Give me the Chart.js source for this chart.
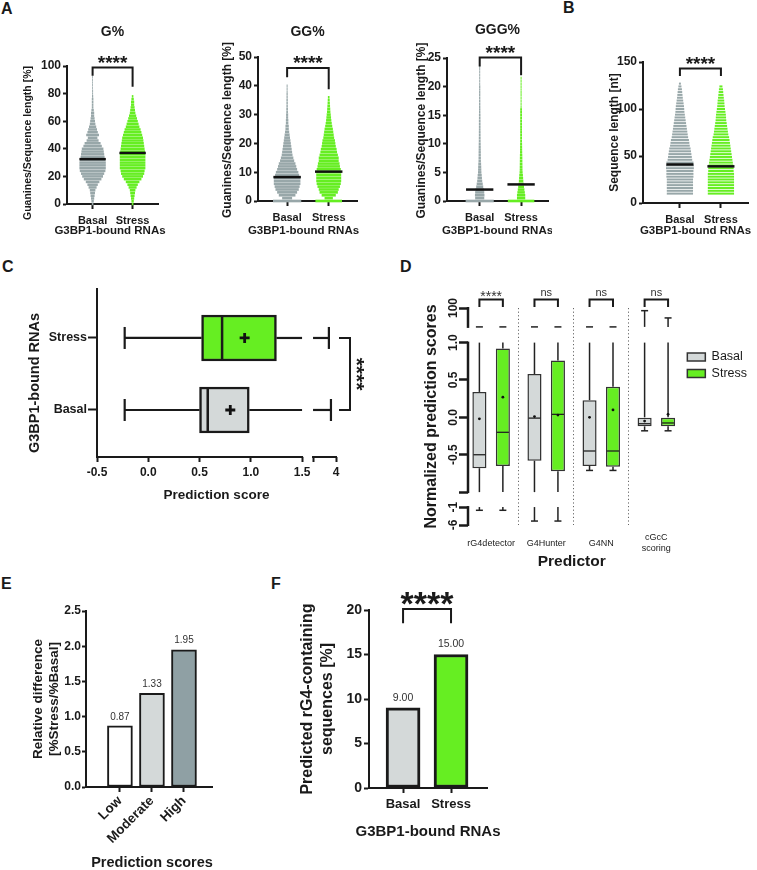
<!DOCTYPE html>
<html>
<head>
<meta charset="utf-8">
<title>G3BP1-bound RNAs – G content and rG4 prediction</title>
<script src="https://cdn.jsdelivr.net/npm/chart.js@4.4.1/dist/chart.umd.min.js"></script>
<style>
  html, body { margin: 0; padding: 0; background: #fff; }
  body { position: relative; width: 757px; height: 870px; overflow: hidden; font-family: 'Liberation Sans', Arial, sans-serif; }
  canvas { position: absolute; }
  .tag { position: absolute; font: bold 16px 'Liberation Sans', Arial, sans-serif; color: #1a1a1a; line-height: 1; }
</style>
</head>
<body>
<div class="tag" style="left:1px;top:1px">A</div>
<div class="tag" style="left:563px;top:0px">B</div>
<div class="tag" style="left:2px;top:259px">C</div>
<div class="tag" style="left:400px;top:259px">D</div>
<div class="tag" style="left:1px;top:576px">E</div>
<div class="tag" style="left:271px;top:576px">F</div>

<canvas id="cvG"></canvas>
<canvas id="cvGG"></canvas>
<canvas id="cvGGG"></canvas>
<canvas id="cvB"></canvas>
<canvas id="cvC"></canvas>
<canvas id="cvD"></canvas>
<canvas id="cvE"></canvas>
<canvas id="cvF"></canvas>

<script>
// ---------- data ----------
const groups = ['Basal', 'Stress'];

// A, G%: swarm half-spread per bin (in category widths)
const gBins = [0,2,4,6,8,10,12,14,16,18,20,22,24,26,28,30,32,34,36,38,40,42,44,46,48,50,52,54,56,58,60,62,64,66,68,70,72,74,76,78,80,82,84,86,88,90,92];
const gBasal = [.02,.03,.04,.05,.06,.07,.10,.13,.17,.22,.26,.29,.32,.33,.33,.33,.32,.30,.29,.28,.27,.23,.20,.15,.12,.16,.13,.11,.09,.07,.06,.05,.04,.04,.03,.02,.02,.02,.02,.015,.012,.012,.01,.01,.01,.01,.01];
const gStress = [.02,.03,.04,.05,.06,.07,.10,.13,.17,.22,.26,.29,.30,.32,.32,.32,.32,.32,.32,.31,.30,.29,.28,.27,.26,.24,.22,.20,.17,.15,.13,.11,.09,.07,.06,.05,.04,.04,.03,.02,0,0,0,0,0,0,0];
const gMedian = [32.5, 37];

// A, GG%
const ggBins = [0,1,2,3,4,5,6,7,8,9,10,11,12,13,14,15,16,17,18,19,20,21,22,23,24,25,26,27,28,29,30,31,32,33,34,35,36,37,38,39,40];
const ggBasal = [.34,.12,.20,.24,.28,.30,.32,.32,.32,.29,.27,.24,.22,.20,.17,.15,.13,.12,.11,.10,.09,.08,.07,.06,.05,.04,.04,.03,.03,.025,.025,.02,.02,.017,.017,.017,.015,.015,.012,.012,.012];
const ggStress = [.32,.10,.17,.22,.24,.27,.29,.30,.30,.30,.30,.29,.27,.26,.24,.24,.22,.20,.19,.17,.16,.15,.13,.12,.11,.10,.085,.073,.063,.056,.049,.041,.037,.032,.027,.024,.02,0,0,0,0];
const ggMedian = [8.3, 10.2];

// A, GGG%
const gggBins = [0,0.5,1,1.5,2,2.5,3,3.5,4,4.5,5,5.5,6,6.5,7,7.5,8,8.5,9,9.5,10,10.5,11,11.5,12,12.5,13,13.5,14,14.5,15,15.5,16,16.5,17,17.5,18,18.5,19,19.5,20,20.5,21,21.5,22,22.5,23,23.5,24];
const gggBasal = [.34,.11,.115,.11,.10,.085,.073,.061,.054,.049,.041,.039,.037,.034,.029,.028,.027,.027,.026,.025,.024,.022,.022,.021,.021,.02,.02,.02,.02,.019,.019,.017,.017,.016,.016,.016,.015,.015,.015,.015,.015,.012,.012,.012,.012,.012,.012,.012,0];
const gggStress = [.32,.10,.10,.09,.08,.07,.06,.054,.049,.044,.037,.034,.033,.032,.031,.03,.029,.027,.026,.025,.024,.022,.022,.022,.022,.022,.022,.022,.022,.022,.022,.022,.022,.012,.012,.012,.012,.012,.012,.012,.012,.012,.012,.012,0,0,0,0,0];
const gggMedian = [2.0, 2.9];

// B, sequence length
const lenBins = [10,13,16,19,22,25,28,31,34,37,40,43,46,49,52,55,58,61,64,67,70,73,76,79,82,85,88,91,94,97,100,103,106,109,112,115,118,121,124,127];
const lenBasal = [.32,.32,.32,.32,.32,.32,.33,.33,.33,.34,.34,.33,.30,.29,.28,.27,.26,.24,.23,.22,.20,.19,.18,.17,.16,.15,.14,.13,.12,.11,.105,.10,.09,.08,.07,.063,.056,.049,.037,.024];
const lenStress = [.32,.32,.32,.32,.32,.32,.32,.32,.31,.31,.30,.29,.28,.27,.26,.25,.24,.23,.22,.21,.20,.18,.17,.16,.15,.14,.13,.125,.12,.11,.10,.09,.085,.08,.07,.063,.056,.049,.037,0];
const lenMedian = [41, 39];

// C, prediction score box plot (Basal, Stress)
const cMin = [-0.23, -0.23];
const cQ1 = [0.50, 0.52];
const cMed = [0.58, 0.72];
const cQ3 = [0.985, 1.25];
const cMax = [3.78, 3.69];
const cMean = [0.80, 0.94];
const cTickVals = [-0.5, 0, 0.5, 1, 1.5, 3, 4];
const cTickText = ['-0.5', '0.0', '0.5', '1.0', '1.5', '', '4'];

// D, normalized prediction scores per predictor
const predictors = ['rG4detector', 'G4Hunter', 'G4NN', ['cGcC', 'scoring']];
const dSig = ['****', 'ns', 'ns', 'ns'];
const dBasalMin = [-1.9, -4.9, -0.71, -0.18];
const dBasalQ1 = [-0.68, -0.58, -0.65, -0.12];
const dBasalMed = [-0.50, -0.01, -0.45, -0.085];
const dBasalQ3 = [0.34, 0.58, 0.23, 0.0];
const dBasalMax = [1.02, 1.02, 1.02, 86];
const dBasalMean = [-0.02, 0.01, 0.0, -0.05];
const dStressMin = [-1.9, -4.9, -0.71, -0.18];
const dStressQ1 = [-0.65, -0.72, -0.66, -0.12];
const dStressMed = [-0.20, 0.04, -0.45, -0.075];
const dStressQ3 = [0.92, 0.76, 0.41, 0.0];
const dStressMax = [1.02, 1.02, 1.02, 48];
const dStressMean = [0.27, 0.03, 0.10, 0.04];
const dTickVals = [-6, -1, -1, -0.5, 0, 0.5, 1, 100];
const dTickSeg = [0, 0, 1, 1, 1, 1, 1, 2];
const dTickText = ['-6', '-1', '', '-0.5', '0.0', '0.5', '1.0', '100'];

// E, relative difference
const scoreLevels = ['Low', 'Moderate', 'High'];
const relDiff = [0.87, 1.33, 1.95];

// F, predicted rG4-containing sequences
const rg4Percent = [9.00, 15.00];

// ---------- look ----------
const FONT = "'Liberation Sans', Arial, sans-serif";
const INK = '#1a1a1a';
const GREY = '#98a7a9';
const GREEN = '#66ee22';
const LIGHT = '#d4d9d9';
const DARK = '#8fa0a4';
Chart.defaults.font.family = FONT;
Chart.defaults.color = INK;

const bold = size => ({ family: FONT, size, weight: 'bold' });

function place(id, box) {
  const c = document.getElementById(id);
  c.width = box[2]; c.height = box[3];
  Object.assign(c.style, { left: box[0] + 'px', top: box[1] + 'px', width: box[2] + 'px', height: box[3] + 'px' });
  return c;
}
// box = canvas [left, top, w, h]; area = wanted plot [left, top, right, bottom] in page px
function frame(box, area) {
  return { top: area[1] - box[1], right: box[0] + box[2] - area[2], yw: area[0] - box[0], xh: box[1] + box[3] - area[3] };
}

function drawMarks(ctx, text, cx, cy, size, weight) {
  ctx.font = `${weight || 'bold'} ${size}px ${FONT}`;
  ctx.textAlign = 'center';
  ctx.textBaseline = 'alphabetic';
  const lift = text.includes('*') ? 0.57 : 0.27;
  ctx.fillText(text, cx, cy + lift * size);
}

// axis titles (drawn without the scale's max-width squeeze); "at" is a page coordinate
const axisText = {
  id: 'axisText',
  afterDraw(chart, args, o) {
    const { ctx, chartArea: a, canvas } = chart;
    ctx.save();
    ctx.fillStyle = INK; ctx.textAlign = 'center'; ctx.textBaseline = 'middle';
    if (o.x) {
      ctx.font = `bold ${o.x.size}px ${FONT}`;
      ctx.fillText(o.x.text, (a.left + a.right) / 2 + (o.x.dx || 0), o.x.at - canvas.offsetTop);
    }
    if (o.y) {
      ctx.font = `bold ${o.y.size}px ${FONT}`;
      ctx.translate(o.y.at - canvas.offsetLeft, (a.top + a.bottom) / 2 + (o.y.dy || 0));
      ctx.rotate(-Math.PI / 2);
      [].concat(o.y.text).forEach((t, k) => ctx.fillText(t, 0, k * o.y.size * 1.2));
    }
    ctx.restore();
  }
};

// significance bracket, in data units
const sigPlugin = {
  id: 'sig',
  afterDraw(chart, args, o) {
    if (!o || !o.items) return;
    const { ctx, scales: { x, y } } = chart;
    ctx.save();
    ctx.strokeStyle = INK; ctx.fillStyle = INK; ctx.lineWidth = o.width || 2;
    o.items.forEach(it => {
      const x0 = x.getPixelForValue(it.from), x1 = x.getPixelForValue(it.to);
      const yt = y.getPixelForValue(it.top);
      ctx.beginPath();
      ctx.moveTo(x0, y.getPixelForValue(it.left));
      ctx.lineTo(x0, yt); ctx.lineTo(x1, yt);
      ctx.lineTo(x1, y.getPixelForValue(it.right));
      ctx.stroke();
      drawMarks(ctx, it.text, (x0 + x1) / 2, y.getPixelForValue(it.textAt), o.size, o.weight);
    });
    ctx.restore();
  }
};

// value labels on top of bars
const valuePlugin = {
  id: 'vals',
  afterDatasetsDraw(chart, args, o) {
    const { ctx } = chart;
    const meta = chart.getDatasetMeta(0);
    ctx.save();
    ctx.fillStyle = '#333';
    ctx.font = `${o.size}px ${FONT}`;
    ctx.textAlign = 'center'; ctx.textBaseline = 'middle';
    meta.data.forEach((bar, i) => {
      ctx.fillText(chart.data.datasets[0].data[i].y.toFixed(2), bar.x, bar.y - o.gap);
    });
    ctx.restore();
  }
};

// ---------- A / B: swarm panels ----------
function swarm(bins, spread, pos, color, bp) {
  return {
    type: 'bar',
    data: bins.map((b, i) => ({ y: b, x: [pos - spread[i], pos + spread[i]] })),
    backgroundColor: color, borderWidth: 0, grouped: false,
    barPercentage: bp, categoryPercentage: 1, clip: false, order: 2
  };
}
function medianLine(v, pos) {
  return {
    type: 'line', data: [{ x: pos - 0.33, y: v }, { x: pos + 0.33, y: v }],
    borderColor: '#111', borderWidth: 2.5, pointRadius: 0, order: 0, clip: false
  };
}

function swarmPanel(o) {
  const f = frame(o.box, o.area);
  const titleTop = o.titleY - o.box[1] - 8.4;
  return new Chart(place(o.id, o.box), {
    type: 'bar',
    data: {
      datasets: [
        medianLine(o.median[0], 0), medianLine(o.median[1], 1),
        swarm(o.bins, o.basal, 0, GREY, o.bp), swarm(o.bins, o.stress, 1, GREEN, o.bp)
      ]
    },
    plugins: [sigPlugin, axisText],
    options: {
      responsive: false, animation: false, indexAxis: 'y',
      layout: { padding: { left: 0, top: o.title ? 0 : f.top, right: f.right, bottom: 0 }, autoPadding: false },
      plugins: {
        legend: { display: false }, tooltip: { enabled: false },
        title: o.title ? {
          display: true, text: o.title, fullSize: false, font: bold(14), color: INK,
          padding: { top: titleTop, bottom: f.top - titleTop - 16.8 }
        } : { display: false },
        sig: { items: [Object.assign({ from: 0, to: 1, text: '****' }, o.sig)], size: 19, width: 2 },
        axisText: {
          x: { text: 'G3BP1-bound RNAs', size: 11.5, at: 231, dx: o.xTitleDx },
          y: { text: o.yTitle, size: o.yTitleSize, at: o.yTitleX, dy: o.yTitleDy }
        }
      },
      scales: {
        x: {
          type: 'linear', min: o.xRange[0], max: o.xRange[1], offset: false,
          afterBuildTicks: s => { s.ticks = [{ value: 0 }, { value: 1 }]; },
          afterFit: s => { s.height = f.xh; },
          ticks: { callback: v => groups[v], font: bold(11), color: INK, padding: 5, maxRotation: 0 },
          grid: { drawOnChartArea: false, offset: false, tickLength: 5, tickWidth: 2, tickColor: INK },
          border: { color: INK, width: 2 }
        },
        y: {
          type: 'linear', min: 0, max: o.yMax, offset: false,
          afterFit: s => { s.width = f.yw; },
          ticks: { stepSize: o.yStep, font: bold(12), color: INK, padding: 2 },
          grid: { drawOnChartArea: false, offset: false, tickLength: 4, tickWidth: 2, tickColor: INK },
          border: { color: INK, width: 2 }
        }
      }
    }
  });
}

swarmPanel({
  id: 'cvG', box: [0, 20, 170, 232], area: [67, 66, 158, 204], xRange: [-0.64, 1.635],
  bins: gBins, basal: gBasal, stress: gStress, median: gMedian, bp: 0.92,
  yMax: 100, yStep: 20, title: 'G%', titleY: 31.7, xTitleDx: -2.5,
  yTitle: 'Guanines/Sequence length [%]', yTitleSize: 10.5, yTitleX: 28, yTitleDy: 8,
  sig: { top: 99, left: 93, right: 85, textAt: 105.6 }
});
swarmPanel({
  id: 'cvGG', box: [170, 20, 190, 232], area: [258, 57, 357, 201], xRange: [-0.7, 1.68],
  bins: ggBins, basal: ggBasal, stress: ggStress, median: ggMedian, bp: 0.92,
  yMax: 50, yStep: 10, title: 'GG%', titleY: 31.7, xTitleDx: -4,
  yTitle: 'Guanines/Sequence length [%]', yTitleSize: 12, yTitleX: 228, yTitleDy: 1,
  sig: { top: 46.2, left: 43, right: 38.8, textAt: 49.5 }
});
swarmPanel({
  id: 'cvGGG', box: [360, 20, 192, 232], area: [447, 58, 548, 201], xRange: [-0.79, 1.65],
  bins: gggBins, basal: gggBasal, stress: gggStress, median: gggMedian, bp: 0.92,
  yMax: 25, yStep: 5, title: 'GGG%', titleY: 30, xTitleDx: 0,
  yTitle: 'Guanines/Sequence length [%]', yTitleSize: 12, yTitleX: 422, yTitleDy: 1,
  sig: { top: 25.1, left: 23.5, right: 22, textAt: 26.7 }
});
swarmPanel({
  id: 'cvB', box: [552, 20, 205, 232], area: [643, 62, 748, 203], xRange: [-0.9, 1.66],
  bins: lenBins, basal: lenBasal, stress: lenStress, median: lenMedian, bp: 0.72,
  yMax: 150, yStep: 50, title: null, titleY: 0, xTitleDx: 0,
  yTitle: 'Sequence length [nt]', yTitleSize: 12, yTitleX: 615, yTitleDy: 0,
  sig: { top: 143, left: 135, right: 135, textAt: 152.9 }
});

// ---------- C: horizontal box plot with broken x axis ----------
const cSegs = [{ lo: -0.5, hi: 1.5, dlo: -0.5, dhi: 1.5 }, { lo: 3, hi: 4, dlo: 1.607, dhi: 1.831 }];
function cPos(v) {
  const s = v > 1.5 ? cSegs[1] : cSegs[0];
  return s.dlo + (v - s.lo) / (s.hi - s.lo) * (s.dhi - s.dlo);
}
function segPieces(a, b, segs) {
  const out = [];
  segs.forEach((s, k) => {
    const lo = Math.max(Math.min(a, b), s.lo), hi = Math.min(Math.max(a, b), s.hi);
    if (lo < hi) out.push([lo, hi, k]);
  });
  return out;
}
function segMap(v, s) { return s.dlo + (v - s.lo) / (s.hi - s.lo) * (s.dhi - s.dlo); }

const cPlugin = {
  id: 'cbox',
  afterDatasetsDraw(chart) {
    const { ctx, scales: { x, y }, chartArea } = chart;
    const meta = chart.getDatasetMeta(0);
    ctx.save();
    ctx.strokeStyle = INK; ctx.fillStyle = INK; ctx.lineWidth = 2.2;
    const line = (x0, y0, x1, y1) => { ctx.beginPath(); ctx.moveTo(x0, y0); ctx.lineTo(x1, y1); ctx.stroke(); };
    groups.forEach((g, i) => {
      const yc = y.getPixelForValue(i);
      const half = meta.data[i].height / 2;
      [[cMin[i], cQ1[i]], [cQ3[i], cMax[i]]].forEach(([a, b]) => {
        segPieces(a, b, cSegs).forEach(([lo, hi, k]) =>
          line(x.getPixelForValue(segMap(lo, cSegs[k])), yc, x.getPixelForValue(segMap(hi, cSegs[k])), yc));
      });
      [cMin[i], cMax[i]].forEach(v => { const px = x.getPixelForValue(cPos(v)); line(px, yc - 11, px, yc + 11); });
      ctx.lineWidth = 2.5;
      const pm = x.getPixelForValue(cPos(cMed[i]));
      line(pm, yc - half + 1, pm, yc + half - 1);
      ctx.lineWidth = 2.2;
    });
    // broken x axis line
    ctx.lineWidth = 2;
    cSegs.forEach(s => line(x.getPixelForValue(s.dlo) - 1, chartArea.bottom, x.getPixelForValue(s.dhi) + 1, chartArea.bottom));
    // bracket and stars
    const yS = y.getPixelForValue(1), yB = y.getPixelForValue(0);
    const bx = chartArea.right + 14;
    ctx.beginPath();
    ctx.moveTo(bx - 11, yS); ctx.lineTo(bx, yS); ctx.lineTo(bx, yB); ctx.lineTo(bx - 11, yB);
    ctx.stroke();
    ctx.translate(bx + 12, (yS + yB) / 2);
    ctx.rotate(Math.PI / 2);
    drawMarks(ctx, '****', 0, 0, 21, 'bold');
    ctx.restore();
  }
};

(function () {
  const box = [0, 262, 392, 258], area = [97, 289, 336, 457];
  const f = frame(box, area);
  new Chart(place('cvC', box), {
    type: 'bar',
    data: {
      datasets: [
        {
          data: groups.map((g, i) => ({ y: i, x: [cQ1[i], cQ3[i]] })),
          backgroundColor: [LIGHT, GREEN], borderColor: INK, borderWidth: 2.5, borderSkipped: false,
          barThickness: 46, grouped: false, order: 2
        },
        {
          type: 'scatter',
          data: groups.map((g, i) => ({ y: i, x: cPos(cMean[i]) })),
          pointStyle: 'cross', pointRadius: 5, borderWidth: 2.8, borderColor: '#111', order: 0
        }
      ]
    },
    plugins: [cPlugin, axisText],
    options: {
      responsive: false, animation: false, indexAxis: 'y',
      layout: { padding: { left: 0, top: f.top, right: f.right, bottom: 0 }, autoPadding: false },
      plugins: {
        legend: { display: false }, tooltip: { enabled: false },
        axisText: {
          x: { text: 'Prediction score', size: 13.5, at: 495 },
          y: { text: 'G3BP1-bound RNAs', size: 14.5, at: 35, dy: 10 }
        }
      },
      scales: {
        x: {
          type: 'linear', min: -0.5, max: cPos(4), offset: false,
          afterBuildTicks: s => { s.ticks = cTickVals.map(v => ({ value: cPos(v) })); },
          afterFit: s => { s.height = f.xh; },
          ticks: { callback: (v, i) => cTickText[i], font: bold(12), color: INK, padding: 3, maxRotation: 0, autoSkip: false },
          grid: { drawOnChartArea: false, offset: false, tickLength: 5, tickWidth: 2, tickColor: INK },
          border: { display: false }
        },
        y: {
          type: 'linear', min: -0.653, max: 1.68, offset: false,
          afterBuildTicks: s => { s.ticks = [{ value: 0 }, { value: 1 }]; },
          afterFit: s => { s.width = f.yw; },
          ticks: { callback: v => groups[v], font: bold(12.5), color: INK, padding: 1 },
          grid: { drawOnChartArea: false, offset: false, tickLength: 9, tickWidth: 2, tickColor: INK },
          border: { color: INK, width: 2 }
        }
      }
    }
  });
})();

// ---------- D: grouped box plots with broken y axis ----------
const dSegs = [
  { lo: -6, hi: -1, dlo: -1.44, dhi: -1.2 },
  { lo: -1, hi: 1, dlo: -1, dhi: 1 },
  { lo: 1, hi: 100, dlo: 1.21, dhi: 1.463 }
];
const dSegOf = v => (v < -1 ? 0 : v > 1 ? 2 : 1);
const dPos = v => segMap(v, dSegs[dSegOf(v)]);

const dPlugin = {
  id: 'dbox',
  afterDatasetsDraw(chart) {
    const { ctx, scales: { y }, chartArea } = chart;
    const stats = [
      [dBasalMin, dBasalMed, dBasalQ1, dBasalQ3, dBasalMax, dBasalMean],
      [dStressMin, dStressMed, dStressQ1, dStressQ3, dStressMax, dStressMean]
    ];
    const line = (x0, y0, x1, y1) => { ctx.beginPath(); ctx.moveTo(x0, y0); ctx.lineTo(x1, y1); ctx.stroke(); };
    ctx.save();
    ctx.strokeStyle = '#222'; ctx.fillStyle = '#111';
    stats.forEach(([mn, md, q1, q3, mx, mean], di) => {
      const meta = chart.getDatasetMeta(di);
      predictors.forEach((p, i) => {
        const bar = meta.data[i];
        const cx = bar.x, hw = bar.width / 2;
        ctx.lineWidth = 1.5;
        [[mn[i], q1[i]], [q3[i], mx[i]]].forEach(([a, b]) => {
          segPieces(a, b, dSegs).forEach(([lo, hi, k]) =>
            line(cx, y.getPixelForValue(segMap(lo, dSegs[k])), cx, y.getPixelForValue(segMap(hi, dSegs[k]))));
        });
        [mn[i], mx[i]].forEach(v => { const py = y.getPixelForValue(dPos(v)); line(cx - 3.5, py, cx + 3.5, py); });
        ctx.lineWidth = 1.3;
        const pm = y.getPixelForValue(dPos(md[i]));
        line(cx - hw + 1, pm, cx + hw - 1, pm);
        ctx.beginPath();
        ctx.arc(cx, y.getPixelForValue(dPos(mean[i])), 1.4, 0, Math.PI * 2);
        ctx.fill();
      });
    });
    // broken y axis
    ctx.strokeStyle = INK; ctx.lineWidth = 2.5;
    dSegs.forEach(s => line(chartArea.left, y.getPixelForValue(s.dlo) + 1, chartArea.left, y.getPixelForValue(s.dhi) - 1));
    // brackets
    ctx.lineWidth = 2; ctx.fillStyle = '#333';
    const b = chart.getDatasetMeta(0).data, s = chart.getDatasetMeta(1).data;
    predictors.forEach((p, i) => {
      const yt = chartArea.top - 8.5, yl = chartArea.top - 1;
      ctx.beginPath();
      ctx.moveTo(b[i].x, yl); ctx.lineTo(b[i].x, yt); ctx.lineTo(s[i].x, yt); ctx.lineTo(s[i].x, yl);
      ctx.stroke();
      drawMarks(ctx, dSig[i], (b[i].x + s[i].x) / 2, chartArea.top - 15, dSig[i].includes('*') ? 14 : 11, 'normal');
    });
    ctx.restore();
  }
};

(function () {
  const box = [385, 262, 372, 312], area = [468, 308, 682, 525];
  const f = frame(box, area);
  const boxSet = (label, q1, q3, color) => ({
    label, data: q1.map((v, i) => ({ x: i, y: [dPos(v), dPos(q3[i])] })),
    backgroundColor: color, borderColor: '#333', borderWidth: 1.5, borderSkipped: false,
    categoryPercentage: 0.852, barPercentage: 0.6
  });
  new Chart(place('cvD', box), {
    type: 'bar',
    data: { datasets: [boxSet('Basal', dBasalQ1, dBasalQ3, LIGHT), boxSet('Stress', dStressQ1, dStressQ3, GREEN)] },
    plugins: [dPlugin, axisText],
    options: {
      responsive: false, animation: false,
      layout: { padding: { left: 0, top: f.top, right: 0, bottom: 0 }, autoPadding: false },
      plugins: {
        tooltip: { enabled: false },
        legend: {
          display: true, position: 'right', align: 'start',
          title: { display: true, text: ' ', font: { size: 1 }, padding: { top: 37.5, bottom: 0 } },
          labels: { boxWidth: 18, boxHeight: 8, padding: 4, font: { family: FONT, size: 12.5 }, color: INK }
        },
        axisText: {
          x: { text: 'Predictor', size: 15.5, at: 562, dx: -4 },
          y: { text: 'Normalized prediction scores', size: 16, at: 432 }
        }
      },
      scales: {
        x: {
          type: 'linear', min: -0.42, max: 3.49, offset: false,
          afterBuildTicks: s => { s.ticks = [0, 1, 2, 3].map(v => ({ value: v })); },
          afterFit: s => { s.height = f.xh; },
          ticks: {
            callback: v => predictors[v], font: { family: FONT, size: 9 },
            color: INK, padding: 13, maxRotation: 0, autoSkip: false, crossAlign: 'center'
          },
          grid: { drawTicks: false, offset: true, lineWidth: 1, color: '#666' },
          border: { display: false, dash: [1.2, 2.4] }
        },
        y: {
          type: 'linear', min: -1.44, max: 1.463,
          afterBuildTicks: s => { s.ticks = dTickVals.map((v, i) => ({ value: segMap(v, dSegs[dTickSeg[i]]) })); },
          afterFit: s => { s.width = f.yw; },
          ticks: { callback: (v, i) => dTickText[i], font: bold(12), color: INK, minRotation: 90, maxRotation: 90, crossAlign: 'center', padding: -5, autoSkip: false },
          grid: { drawOnChartArea: false, tickLength: 9, tickWidth: 2.5, tickColor: INK },
          border: { display: false }
        }
      }
    }
  });
})();

// ---------- E: relative difference bars ----------
(function () {
  const box = [0, 575, 235, 305], area = [86, 611, 212, 787];
  const f = frame(box, area);
  new Chart(place('cvE', box), {
    type: 'bar',
    data: {
      datasets: [{
        data: relDiff.map((v, i) => ({ x: i, y: v })),
        backgroundColor: ['#ffffff', LIGHT, DARK], borderColor: INK, borderWidth: 2, borderSkipped: false, barThickness: 25
      }]
    },
    plugins: [valuePlugin, axisText],
    options: {
      responsive: false, animation: false,
      layout: { padding: { left: 0, top: f.top, right: f.right, bottom: 0 }, autoPadding: false },
      plugins: {
        legend: { display: false }, tooltip: { enabled: false }, vals: { size: 10, gap: 9 },
        axisText: {
          x: { text: 'Prediction scores', size: 14.5, at: 863, dx: 3 },
          y: { text: ['Relative difference', '[%Stress/%Basal]'], size: 13.5, at: 38 }
        }
      },
      scales: {
        x: {
          type: 'linear', min: -1.06, max: 2.875, offset: false,
          afterBuildTicks: s => { s.ticks = [0, 1, 2].map(v => ({ value: v })); },
          afterFit: s => { s.height = f.xh; },
          ticks: { callback: v => scoreLevels[v], font: bold(13.5), color: INK, minRotation: 45, maxRotation: 45, padding: 1, autoSkip: false },
          grid: { drawOnChartArea: false, offset: false, tickLength: 5, tickWidth: 2, tickColor: INK },
          border: { color: INK, width: 2 }
        },
        y: {
          min: 0, max: 2.5,
          afterFit: s => { s.width = f.yw; },
          ticks: { stepSize: 0.5, callback: v => v.toFixed(1), font: bold(12), color: INK, padding: 1 },
          grid: { drawOnChartArea: false, tickLength: 4, tickWidth: 2, tickColor: INK },
          border: { color: INK, width: 2 }
        }
      }
    }
  });
})();

// ---------- F: predicted rG4-containing sequences ----------
(function () {
  const box = [268, 575, 235, 295], area = [369, 610, 487, 788];
  const f = frame(box, area);
  new Chart(place('cvF', box), {
    type: 'bar',
    data: {
      datasets: [{
        data: rg4Percent.map((v, i) => ({ x: i, y: v })),
        backgroundColor: [LIGHT, GREEN], borderColor: INK, borderWidth: 3, borderSkipped: false, barThickness: 34
      }]
    },
    plugins: [valuePlugin, sigPlugin, axisText],
    options: {
      responsive: false, animation: false,
      layout: { padding: { left: 0, top: f.top, right: f.right, bottom: 0 }, autoPadding: false },
      plugins: {
        legend: { display: false }, tooltip: { enabled: false }, vals: { size: 10.5, gap: 10 },
        sig: { items: [{ from: 0, to: 1, top: 20.1, left: 18.5, right: 18.5, textAt: 21.6, text: '****' }], size: 34, width: 2 },
        axisText: {
          x: { text: 'G3BP1-bound RNAs', size: 15, at: 832 },
          y: { text: ['Predicted rG4-containing', 'sequences [%]'], size: 16, at: 308 }
        }
      },
      scales: {
        x: {
          type: 'linear', min: -0.71, max: 1.75, offset: false,
          afterBuildTicks: s => { s.ticks = [{ value: 0 }, { value: 1 }]; },
          afterFit: s => { s.height = f.xh; },
          ticks: { callback: v => groups[v], font: bold(13), color: INK, padding: 4, maxRotation: 0 },
          grid: { drawOnChartArea: false, offset: false, tickLength: 5, tickWidth: 2, tickColor: INK },
          border: { color: INK, width: 2 }
        },
        y: {
          min: 0, max: 20,
          afterFit: s => { s.width = f.yw; },
          ticks: { stepSize: 5, font: bold(14), color: INK, padding: 2 },
          grid: { drawOnChartArea: false, tickLength: 5, tickWidth: 2, tickColor: INK },
          border: { color: INK, width: 2 }
        }
      }
    }
  });
})();
</script>
</body>
</html>
